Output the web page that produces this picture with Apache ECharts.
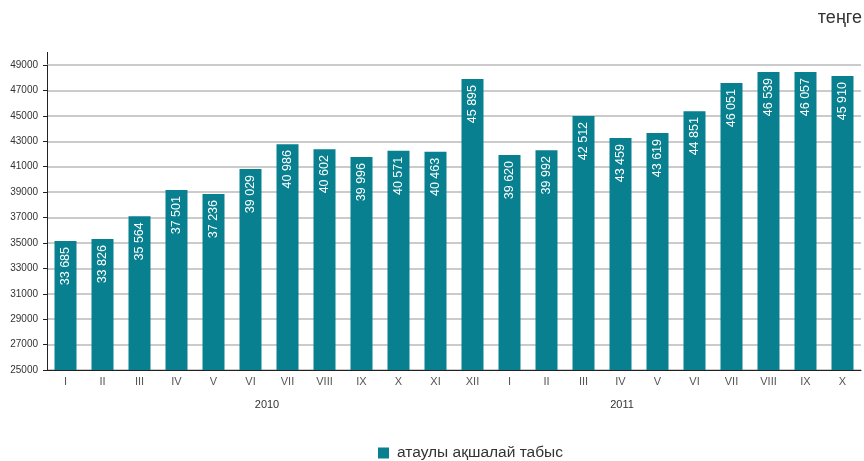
<!DOCTYPE html>
<html>
<head>
<meta charset="utf-8">
<script src="https://cdn.jsdelivr.net/npm/echarts@6/dist/echarts.min.js"></script>
<style>
  html, body { margin: 0; padding: 0; background: #fff; }
  #chart { width: 864px; height: 461px; }
</style>
</head>
<body>
<div id="chart"></div>
<script>
// months (2010: I..XII, 2011: I..X)
var months = ['I', 'II', 'III', 'IV', 'V', 'VI', 'VII', 'VIII', 'IX', 'X', 'XI', 'XII',
  'I', 'II', 'III', 'IV', 'V', 'VI', 'VII', 'VIII', 'IX', 'X'];
// bar heights
var barValues = [35150, 35300, 37100, 39160, 38850, 40820, 42770, 42380, 41760, 42250, 42170, 47900,
  41920, 42300, 44990, 43250, 43650, 45370, 47580, 48450, 48450, 48130];
// numbers printed inside the bars
var valueLabels = ['33 685', '33 826', '35 564', '37 501', '37 236', '39 029', '40 986', '40 602', '39 996', '40 571', '40 463', '45 895',
  '39 620', '39 992', '42 512', '43 459', '43 619', '44 851', '46 051', '46 539', '46 057', '45 910'];
var years = ['2010', '2011'];
var seriesName = 'атаулы ақшалай табыс';
var unitText = 'теңге';

var font = "'Liberation Sans', Arial, sans-serif";
var chart = echarts.init(document.getElementById('chart'));

chart.setOption({
  animation: false,
  textStyle: { fontFamily: font },
  title: {
    text: unitText,
    right: 2,
    top: 9,
    padding: 0,
    textStyle: { fontSize: 18, fontWeight: 'normal', color: '#333', fontFamily: font }
  },
  grid: { left: 47, right: 3, top: 65, bottom: 91 },
  legend: {
    data: [seriesName],
    bottom: 0,
    left: 378,
    padding: [0, 0, 0, 0],
    icon: 'rect',
    itemWidth: 11,
    itemHeight: 11,
    itemGap: 8,
    textStyle: { fontSize: 15.5, color: '#333', fontFamily: font, padding: [0, 0, 0, 3] }
  },
  xAxis: {
    type: 'category',
    data: months,
    axisLine: { lineStyle: { color: '#222', width: 1 } },
    axisTick: { show: false },
    axisLabel: { color: '#555', fontSize: 11, margin: 6, interval: 0 }
  },
  yAxis: {
    type: 'value',
    min: 25000,
    max: 49000,
    interval: 2000,
    axisLine: { show: true, lineStyle: { color: '#222', width: 1 } },
    axisTick: { show: true, length: 4, lineStyle: { color: '#222' } },
    axisLabel: { color: '#333', fontSize: 10, margin: 9, formatter: function (v) { return String(v); } },
    splitLine: { lineStyle: { color: '#cbcbcb', width: 2 } }
  },
  graphic: [
    { type: 'line', shape: { x1: 47.5, y1: 52, x2: 47.5, y2: 65 }, style: { stroke: '#222', lineWidth: 1 } },
    { type: 'text', x: 267, y: 405, style: { text: years[0], fill: '#333', font: '11px ' + font, textAlign: 'center', textVerticalAlign: 'middle' } },
    { type: 'text', x: 622, y: 405, style: { text: years[1], fill: '#333', font: '11px ' + font, textAlign: 'center', textVerticalAlign: 'middle' } }
  ],
  series: [{
    name: seriesName,
    type: 'bar',
    data: barValues,
    barWidth: 22,
    itemStyle: { color: '#08808f' },
    label: {
      show: true,
      position: 'insideTop',
      rotate: 90,
      align: 'right',
      verticalAlign: 'middle',
      distance: 6,
      color: '#fff',
      fontSize: 12.5,
      fontFamily: font,
      formatter: function (p) { return valueLabels[p.dataIndex]; }
    }
  }]
});
</script>
</body>
</html>
